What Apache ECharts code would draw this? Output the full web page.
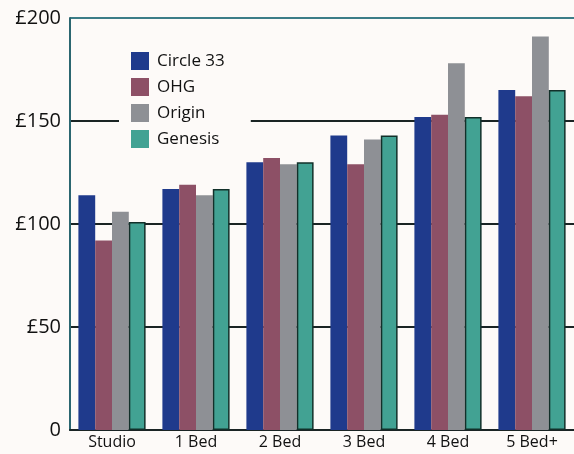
<!DOCTYPE html>
<html>
<head>
<meta charset="utf-8">
<script src="https://cdn.jsdelivr.net/npm/echarts@6/dist/echarts.min.js"></script>
<style>
  html, body { margin: 0; padding: 0; background: #fdfaf8; }
  #chart { width: 574px; height: 454px; }
</style>
</head>
<body>
<div id="chart"></div>
<script>
// data
const categories = ['Studio', '1 Bed', '2 Bed', '3 Bed', '4 Bed', '5 Bed+']
const seriesNames = ['Circle 33', 'OHG', 'Origin', 'Genesis']
const circle33 = [114, 117, 130, 143, 152, 165]
const ohg = [92, 119, 132, 129, 153, 162]
const origin = [106, 114, 129, 141, 178, 191]
const genesis = [101, 117, 130, 143, 152, 165]
const yTicks = [0, 50, 100, 150, 200]

const colors = ['#1f3a8c', '#8d5066', '#8e9095', '#42a293']
const font = '"Open Sans", "DejaVu Sans", sans-serif'

const chart = echarts.init(document.getElementById('chart'))

function bar(name, data, idx) {
    const s = {
        name: name,
        type: 'bar',
        data: data,
        barGap: '0%',
        barCategoryGap: '20%',
        itemStyle: { color: colors[idx] }
    }
    // Genesis bars have a dark outline
    if (idx === 3) {
        s.itemStyle.borderColor = '#12302a'
        s.itemStyle.borderWidth = 1.5
    }
    return s
}

const option = {
    backgroundColor: '#fdfaf8',
    animation: false,
    textStyle: { fontFamily: font },
    grid: {
        left: 70,
        right: -2,
        top: 18,
        bottom: 24
    },
    legend: {
        orient: 'vertical',
        left: 119,
        top: 44,
        padding: [8, 26, 8, 12],
        itemGap: 8,
        itemWidth: 18,
        itemHeight: 18,
        backgroundColor: '#fdfaf8',
        icon: 'rect',
        data: seriesNames,
        itemStyle: { borderWidth: 0 },
        textStyle: {
            fontSize: 17,
            color: '#111',
            fontFamily: font,
            padding: [0, 0, 0, 3]
        }
    },
    xAxis: {
        type: 'category',
        data: categories,
        axisLine: { lineStyle: { color: '#1a2424', width: 2 } },
        axisTick: {
            inside: true,
            length: 4,
            lineStyle: { color: '#1a2424', width: 1 }
        },
        axisLabel: {
            color: '#111',
            fontSize: 16,
            margin: 4,
            fontFamily: font
        }
    },
    yAxis: {
        type: 'value',
        min: 0,
        max: 200,
        interval: 50,
        axisLine: { show: true, lineStyle: { color: '#2b6670', width: 2 } },
        axisTick: { show: false },
        axisLabel: {
            color: '#111',
            fontSize: 20,
            margin: 9,
            fontFamily: font,
            formatter: function (v) {
                return yTicks.indexOf(v) > 0 ? '£' + v : String(v)
            }
        },
        splitLine: {
            show: true,
            lineStyle: {
                color: ['#1a2424', '#1a2424', '#1a2424', '#1a2424', '#3c7d88'],
                width: 2
            }
        }
    },
    series: [
        bar(seriesNames[0], circle33, 0),
        bar(seriesNames[1], ohg, 1),
        bar(seriesNames[2], origin, 2),
        bar(seriesNames[3], genesis, 3)
    ]
}

chart.setOption(option)
</script>
</body>
</html>
